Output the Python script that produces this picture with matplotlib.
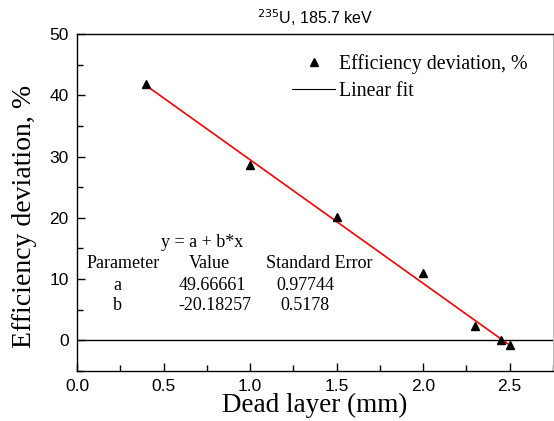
import matplotlib
matplotlib.use("Agg")
import numpy as np
import matplotlib.pyplot as plt
from matplotlib.lines import Line2D
from matplotlib.ticker import MultipleLocator

# data
dead_layer = [0.4, 1.0, 1.5, 2.0, 2.3, 2.45, 2.5]
eff_dev = [41.8, 28.7, 20.2, 11.0, 2.3, 0.0, -0.8]

# linear fit parameters as printed on the chart
fit_a, fit_b = 49.66661, -20.18257
fit_a_err, fit_b_err = 0.97744, 0.5178

serif = "Liberation Serif"
sans = "Liberation Sans"

fig = plt.figure(figsize=(5.54, 4.21), dpi=100)
ax = fig.add_axes([0.139, 0.119, 0.859, 0.800])

fit_x = np.array([min(dead_layer), max(dead_layer)])
ax.plot(fit_x, fit_a + fit_b * fit_x, color="red", lw=1.2, zorder=2)
ax.axhline(0, color="black", lw=1.0, zorder=1)
ax.plot(dead_layer, eff_dev, "^", color="black", ms=6, zorder=3)

ax.set_xlim(0, 2.75)
ax.set_ylim(-5, 50)
ax.xaxis.set_major_locator(MultipleLocator(0.5))
ax.xaxis.set_minor_locator(MultipleLocator(0.25))
ax.yaxis.set_major_locator(MultipleLocator(10))
ax.yaxis.set_minor_locator(MultipleLocator(5))
ax.tick_params(which="both", direction="in", top=False, right=False)
ax.tick_params(which="major", length=6, width=1, labelsize=12.5, pad=6)
ax.tick_params(which="minor", length=4, width=1)
for lab in ax.get_xticklabels() + ax.get_yticklabels():
    lab.set_fontfamily(sans)
for side in ("left", "bottom", "top"):
    ax.spines[side].set_linewidth(1.0)
ax.spines["right"].set_color("#bbbbbb")

ax.set_xlabel("Dead layer (mm)", fontfamily=serif, fontsize=19.5, labelpad=-1)
ax.set_ylabel("Efficiency deviation, %", fontfamily=serif, fontsize=20)
ax.yaxis.set_label_coords(-0.084, 0.458)
ax.set_title("$^{235}$U, 185.7 keV", fontfamily=sans, fontsize=11.5, pad=7)

handles = [
    Line2D([], [], marker="^", ls="none", color="black", ms=6),
    Line2D([], [], color="black", lw=0.8),
]
ax.legend(handles, ["Efficiency deviation, %", "Linear fit"],
          loc="upper right", bbox_to_anchor=(0.985, 0.995), frameon=False,
          prop={"family": serif, "size": 14.3}, handlelength=2.2,
          handletextpad=0.2, labelspacing=0.4)

# fit summary table
tk = dict(transform=ax.transAxes, fontfamily=serif, fontsize=13, va="center")
ax.text(0.263, 0.380, "y = a + b*x", ha="center", **tk)
ax.text(0.097, 0.320, "Parameter", ha="center", **tk)
ax.text(0.279, 0.320, "Value", ha="center", **tk)
ax.text(0.508, 0.320, "Standard Error", ha="center", **tk)
ax.text(0.084, 0.255, "a", ha="center", **tk)
ax.text(0.214, 0.255, f"{fit_a:.5f}", ha="left", **tk)
ax.text(0.479, 0.255, f"{fit_a_err:g}", ha="center", **tk)
ax.text(0.084, 0.193, "b", ha="center", **tk)
ax.text(0.214, 0.193, f"{fit_b:.5f}", ha="left", **tk)
ax.text(0.479, 0.193, f"{fit_b_err:g}", ha="center", **tk)

fig.savefig("out.png", dpi=100)
